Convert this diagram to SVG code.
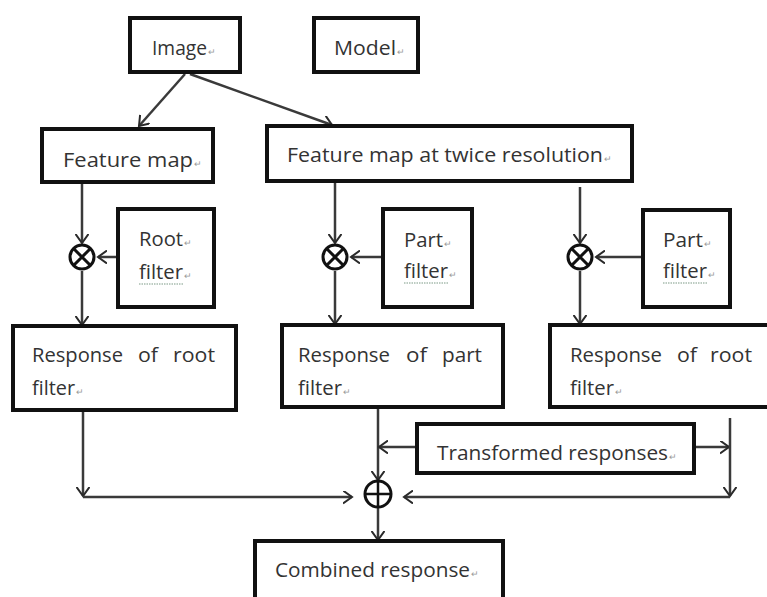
<svg xmlns="http://www.w3.org/2000/svg" width="767" height="597" viewBox="0 0 767 597">
<defs>
<style>
.box{fill:#fff;stroke:#111;stroke-width:4}
.t{font-family:"Open Sans","Liberation Sans",sans-serif;font-size:20px;fill:#333}
.pm{font-size:9px;fill:#9a9a9a}
.c{fill:none;stroke:#3a3a3a;stroke-width:2.5}
.op{fill:none;stroke:#111;stroke-width:3}
.ul{stroke:#7d9a86;stroke-width:1.2;stroke-dasharray:1.5 1}
</style>
<marker id="ah" markerUnits="userSpaceOnUse" markerWidth="14" markerHeight="14" refX="9" refY="6.5" orient="auto">
<path d="M0,0 L9,6.5 L0,13" fill="none" stroke="#2a2a2a" stroke-width="2"/>
</marker>
</defs>
<rect width="767" height="597" fill="#fff"/>

<g id="connectors">
<line class="c" x1="185" y1="74" x2="139" y2="126" marker-end="url(#ah)"/>
<line class="c" x1="190" y1="74" x2="332" y2="125" marker-end="url(#ah)"/>
<line class="c" x1="82" y1="182" x2="82" y2="243" marker-end="url(#ah)"/>
<line class="c" x1="118" y1="257" x2="98" y2="257" marker-end="url(#ah)"/>
<line class="c" x1="82" y1="271" x2="82" y2="325" marker-end="url(#ah)"/>
<line class="c" x1="335" y1="181" x2="335" y2="243" marker-end="url(#ah)"/>
<line class="c" x1="383" y1="257" x2="351" y2="257" marker-end="url(#ah)"/>
<line class="c" x1="335" y1="271" x2="335" y2="324" marker-end="url(#ah)"/>
<line class="c" x1="580" y1="187" x2="580" y2="243" marker-end="url(#ah)"/>
<line class="c" x1="643" y1="257" x2="596" y2="257" marker-end="url(#ah)"/>
<line class="c" x1="580" y1="271" x2="580" y2="324" marker-end="url(#ah)"/>
<line class="c" x1="83" y1="411" x2="83" y2="496" marker-end="url(#ah)"/>
<line class="c" x1="83" y1="497" x2="352" y2="497" marker-end="url(#ah)"/>
<line class="c" x1="378" y1="407" x2="378" y2="480" marker-end="url(#ah)"/>
<line class="c" x1="417" y1="447" x2="379" y2="447" marker-end="url(#ah)"/>
<line class="c" x1="694" y1="447" x2="729" y2="447" marker-end="url(#ah)"/>
<line class="c" x1="730" y1="418" x2="730" y2="496" marker-end="url(#ah)"/>
<line class="c" x1="730" y1="497" x2="404" y2="497" marker-end="url(#ah)"/>
<line class="c" x1="378" y1="508" x2="378" y2="540" marker-end="url(#ah)"/>
</g>

<g id="image"><rect class="box" x="130" y="18" width="110" height="54"/>
<text class="t" x="152" y="55"><tspan textLength="55" lengthAdjust="spacingAndGlyphs">Image</tspan><tspan class="pm" dx="1">↵</tspan></text></g>

<g id="model"><rect class="box" x="314" y="18" width="104" height="54"/>
<text class="t" x="334" y="55"><tspan textLength="62" lengthAdjust="spacingAndGlyphs">Model</tspan><tspan class="pm" dx="1">↵</tspan></text></g>

<g id="feature-map"><rect class="box" x="42" y="129" width="171" height="53"/>
<text class="t" x="63" y="167"><tspan textLength="130" lengthAdjust="spacingAndGlyphs">Feature map</tspan><tspan class="pm" dx="1">↵</tspan></text></g>

<g id="feature-map-twice"><rect class="box" x="267" y="126" width="365" height="55"/>
<text class="t" x="287" y="162"><tspan textLength="316" lengthAdjust="spacingAndGlyphs">Feature map at twice resolution</tspan><tspan class="pm" dx="1">↵</tspan></text></g>

<g id="otimes-1"><circle class="op" cx="82" cy="257" r="12" style="fill:#fff"/><path d="M73.5 248.5 L90.5 265.5 M90.5 248.5 L73.5 265.5" stroke="#111" stroke-width="3"/></g>
<g id="otimes-2"><circle class="op" cx="335" cy="257" r="12" style="fill:#fff"/><path d="M326.5 248.5 L343.5 265.5 M343.5 248.5 L326.5 265.5" stroke="#111" stroke-width="3"/></g>
<g id="otimes-3"><circle class="op" cx="580" cy="257" r="12" style="fill:#fff"/><path d="M571.5 248.5 L588.5 265.5 M588.5 248.5 L571.5 265.5" stroke="#111" stroke-width="3"/></g>

<g id="root-filter"><rect class="box" x="118" y="209" width="96" height="98"/>
<text class="t" x="139" y="246"><tspan textLength="44" lengthAdjust="spacingAndGlyphs">Root</tspan><tspan class="pm" dx="1">↵</tspan></text>
<text class="t" x="139" y="279"><tspan textLength="44" lengthAdjust="spacingAndGlyphs">filter</tspan><tspan class="pm" dx="1">↵</tspan></text>
<line class="ul" x1="139" y1="284" x2="184" y2="284"/></g>

<g id="part-filter-1"><rect class="box" x="383" y="209" width="89" height="98"/>
<text class="t" x="404" y="247"><tspan textLength="39" lengthAdjust="spacingAndGlyphs">Part</tspan><tspan class="pm" dx="1">↵</tspan></text>
<text class="t" x="404" y="278"><tspan textLength="44" lengthAdjust="spacingAndGlyphs">filter</tspan><tspan class="pm" dx="1">↵</tspan></text>
<line class="ul" x1="404" y1="283" x2="449" y2="283"/></g>

<g id="part-filter-2"><rect class="box" x="643" y="210" width="87" height="97"/>
<text class="t" x="663" y="247"><tspan textLength="40" lengthAdjust="spacingAndGlyphs">Part</tspan><tspan class="pm" dx="1">↵</tspan></text>
<text class="t" x="663" y="278"><tspan textLength="44" lengthAdjust="spacingAndGlyphs">filter</tspan><tspan class="pm" dx="1">↵</tspan></text>
<line class="ul" x1="663" y1="283" x2="708" y2="283"/></g>

<g id="response-root-1"><rect class="box" x="13" y="326" width="223" height="84"/>
<text class="t" y="362"><tspan x="32" textLength="91" lengthAdjust="spacingAndGlyphs">Response</tspan> <tspan x="138" textLength="20" lengthAdjust="spacingAndGlyphs">of</tspan> <tspan x="173" textLength="42" lengthAdjust="spacingAndGlyphs">root</tspan></text>
<text class="t" x="32" y="395"><tspan textLength="43" lengthAdjust="spacingAndGlyphs">filter</tspan><tspan class="pm" dx="1">↵</tspan></text></g>

<g id="response-part"><rect class="box" x="282" y="325" width="221" height="82"/>
<text class="t" y="362"><tspan x="298" textLength="92" lengthAdjust="spacingAndGlyphs">Response</tspan> <tspan x="406" textLength="21" lengthAdjust="spacingAndGlyphs">of</tspan> <tspan x="442" textLength="40" lengthAdjust="spacingAndGlyphs">part</tspan></text>
<text class="t" x="298" y="395"><tspan textLength="44" lengthAdjust="spacingAndGlyphs">filter</tspan><tspan class="pm" dx="1">↵</tspan></text></g>

<g id="response-root-2"><rect class="box" x="550" y="325" width="222" height="82"/>
<text class="t" y="362"><tspan x="570" textLength="92" lengthAdjust="spacingAndGlyphs">Response</tspan> <tspan x="677" textLength="20" lengthAdjust="spacingAndGlyphs">of</tspan> <tspan x="710" textLength="42" lengthAdjust="spacingAndGlyphs">root</tspan></text>
<text class="t" x="570" y="395"><tspan textLength="44" lengthAdjust="spacingAndGlyphs">filter</tspan><tspan class="pm" dx="1">↵</tspan></text></g>

<g id="transformed"><rect class="box" x="417" y="424" width="277" height="49"/>
<text class="t" x="437" y="460"><tspan textLength="231" lengthAdjust="spacingAndGlyphs">Transformed responses</tspan><tspan class="pm" dx="1">↵</tspan></text></g>

<g id="oplus"><circle class="op" cx="378" cy="494" r="13"/><path d="M365 494 H391 M378 481 V507" stroke="#111" stroke-width="2.5"/></g>

<g id="combined"><rect class="box" x="255" y="541" width="248" height="62"/>
<text class="t" x="275" y="577"><tspan textLength="195" lengthAdjust="spacingAndGlyphs">Combined response</tspan><tspan class="pm" dx="1">↵</tspan></text></g>
</svg>
